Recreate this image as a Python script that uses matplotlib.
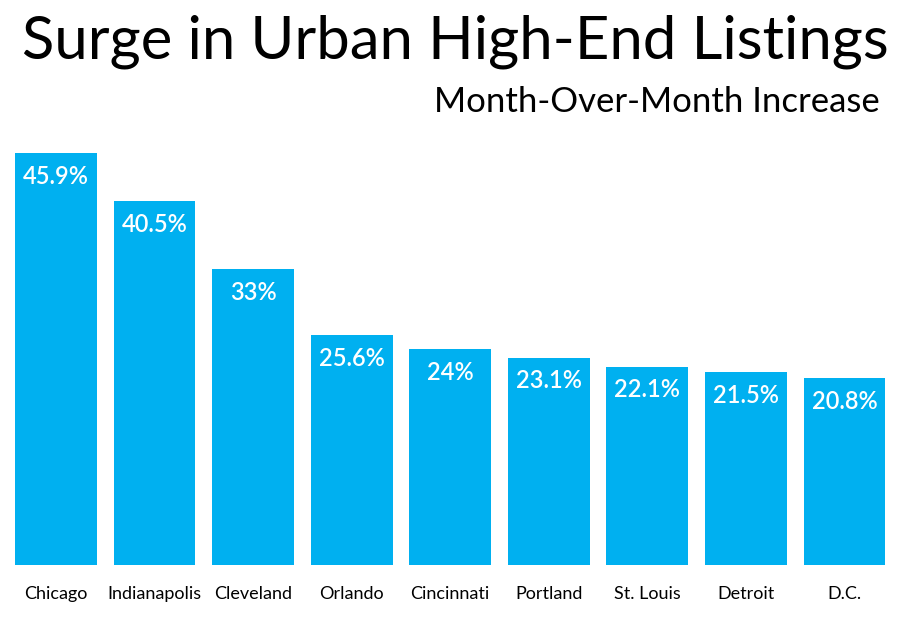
import matplotlib
matplotlib.use("Agg")
import matplotlib.pyplot as plt
import numpy as np

cities = ["Chicago", "Indianapolis", "Cleveland", "Orlando", "Cincinnati",
          "Portland", "St. Louis", "Detroit", "D.C."]
increase = [45.9, 40.5, 33, 25.6, 24, 23.1, 22.1, 21.5, 20.8]
labels = ["45.9%", "40.5%", "33%", "25.6%", "24%", "23.1%", "22.1%", "21.5%", "20.8%"]

plt.rcParams["font.family"] = ["Lato", "DejaVu Sans"]

fig = plt.figure(figsize=(9, 6.2), dpi=100)
ax = fig.add_axes([0, 0.0887, 1, 0.6855])

x = np.arange(len(cities))
ax.bar(x, increase, width=0.83, color="#00B0F0")
ax.set_xlim(-0.568, 8.563)
ax.set_ylim(0, 47.33)

# value labels inside the top of each bar
for xi, v, lab in zip(x, increase, labels):
    ax.text(xi, v - 2.6, lab, ha="center", va="center", color="white",
            fontsize=17, fontweight="semibold")

# city names under the bars
for xi, c in zip(x, cities):
    ax.text(xi, -3.2, c, ha="center", va="center", color="black", fontsize=13)

ax.axis("off")

fig.text(0.024, 0.932, "Surge in Urban High-End Listings", ha="left", va="center",
         fontsize=43, color="black")
fig.text(0.978, 0.835, "Month-Over-Month Increase", ha="right", va="center",
         fontsize=25, color="black")

fig.savefig("out.png", dpi=100)
